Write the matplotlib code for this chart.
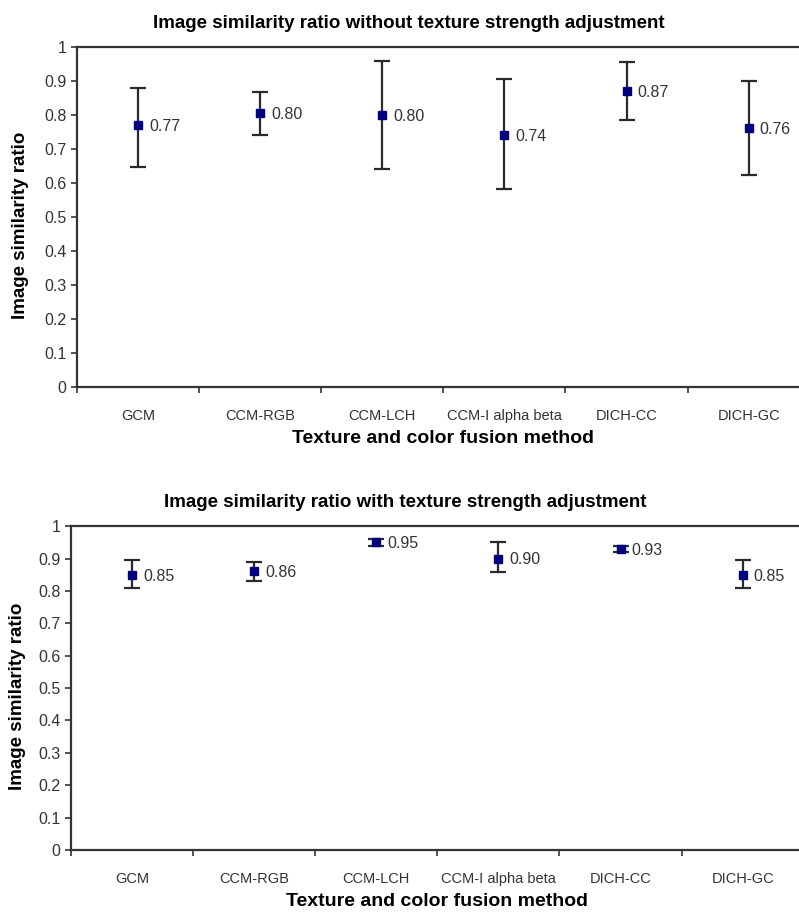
import numpy as np
import matplotlib
matplotlib.use("Agg")
import matplotlib.pyplot as plt

plt.rcParams['font.family'] = ['Liberation Sans', 'DejaVu Sans']

methods = ['GCM', 'CCM-RGB', 'CCM-LCH', 'CCM-I alpha beta', 'DICH-CC', 'DICH-GC']

# without texture strength adjustment
mean_no = [0.77, 0.805, 0.80, 0.74, 0.87, 0.762]
low_no = [0.648, 0.74, 0.64, 0.583, 0.785, 0.625]
high_no = [0.88, 0.868, 0.96, 0.905, 0.955, 0.90]
lab_no = ['0.77', '0.80', '0.80', '0.74', '0.87', '0.76']

# with texture strength adjustment
mean_adj = [0.85, 0.86, 0.95, 0.90, 0.93, 0.85]
low_adj = [0.81, 0.83, 0.94, 0.858, 0.92, 0.81]
high_adj = [0.895, 0.89, 0.96, 0.95, 0.94, 0.895]
lab_adj = ['0.85', '0.86', '0.95', '0.90', '0.93', '0.85']

titles = ['Image similarity ratio without texture strength adjustment',
          'Image similarity ratio with texture strength adjustment']

fig = plt.figure(figsize=(7.99, 9.15), dpi=100)
ax1 = fig.add_axes([0.0964, 0.577, 0.917, 0.3716])
ax2 = fig.add_axes([0.0889, 0.0710, 0.917, 0.3540])

spine_col = '#333333'
text_col = '#333333'


def draw(ax, mean, low, high, labs, title, ylab_x, title_x):
    x = np.arange(len(methods)) + 0.5
    mean = np.array(mean)
    yerr = [mean - np.array(low), np.array(high) - mean]
    ax.errorbar(x, mean, yerr=yerr, fmt='s', color='#000080', ms=6,
                ecolor='#2a2a2a', elinewidth=1.6, capsize=6, capthick=1.6,
                zorder=3)
    for xi, yi, t in zip(x, mean, labs):
        ax.annotate(t, (xi, yi), xytext=(8, -1), textcoords='offset points',
                    va='center', ha='left', fontsize=11.5, color=text_col)
    ax.set_xlim(0, 6)
    ax.set_ylim(0, 1)
    ax.set_xticks(np.arange(7))
    ax.set_xticklabels([])
    ax.set_xticks(x, minor=True)
    ax.set_xticklabels(methods, minor=True, fontsize=10.5, color=text_col)
    ax.tick_params(axis='x', which='minor', length=0, pad=16)
    ax.tick_params(axis='x', which='major', length=4, width=1.2, color=spine_col)
    ax.set_yticks(np.arange(0, 1.01, 0.1))
    ax.set_yticklabels(['0'] + ['%.1f' % v for v in np.arange(0.1, 0.95, 0.1)] + ['1'])
    ax.tick_params(axis='y', length=4, width=1.2, color=spine_col,
                   labelsize=11.5, labelcolor=text_col)
    for s in ['left', 'bottom', 'top']:
        ax.spines[s].set_color(spine_col)
        ax.spines[s].set_linewidth(1.6)
    ax.spines['right'].set_visible(False)
    ax.set_title(title, fontsize=13.5, fontweight='bold', pad=14, x=title_x)
    ax.set_xlabel('Texture and color fusion method', fontsize=14,
                  fontweight='bold', labelpad=5)
    ax.set_ylabel('Image similarity ratio', fontsize=13.5, fontweight='bold')
    ax.yaxis.set_label_coords(ylab_x, 0.475)


draw(ax1, mean_no, low_no, high_no, lab_no, titles[0], -0.066, 0.453)
draw(ax2, mean_adj, low_adj, high_adj, lab_adj, titles[1], -0.062, 0.456)

fig.savefig('out.png', dpi=100)
